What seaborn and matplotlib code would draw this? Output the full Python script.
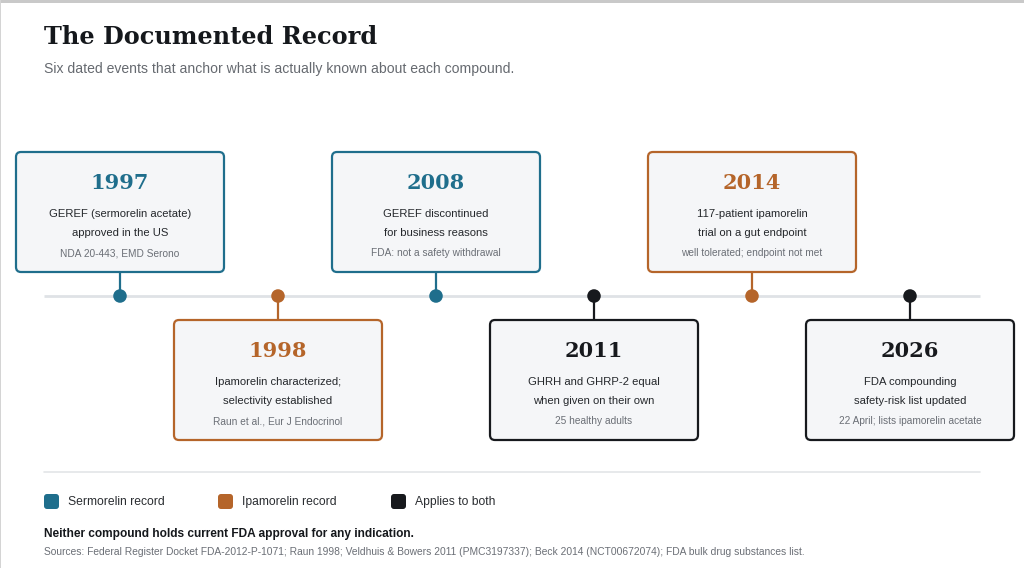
import matplotlib.pyplot as plt
import seaborn as sns
import pandas as pd
from matplotlib.patches import FancyBboxPatch, Rectangle

# Timeline data
years = ['1997', '1998', '2008', '2011', '2014', '2026']
compound = ['Sermorelin', 'Ipamorelin', 'Sermorelin', 'Both', 'Ipamorelin', 'Both']
headlines = [
    'GEREF (sermorelin acetate)\napproved in the US',
    'Ipamorelin characterized;\nselectivity established',
    'GEREF discontinued\nfor business reasons',
    'GHRH and GHRP-2 equal\nwhen given on their own',
    '117-patient ipamorelin\ntrial on a gut endpoint',
    'FDA compounding\nsafety-risk list updated',
]
notes = [
    'NDA 20-443, EMD Serono',
    'Raun et al., Eur J Endocrinol',
    'FDA: not a safety withdrawal',
    '25 healthy adults',
    'well tolerated; endpoint not met',
    '22 April; lists ipamorelin acetate',
]
legend_keys = ['Sermorelin', 'Ipamorelin', 'Both']
legend_labels = ['Sermorelin record', 'Ipamorelin record', 'Applies to both']

palette = {'Sermorelin': '#1f6e8c', 'Ipamorelin': '#b5652a', 'Both': '#17191d'}

# layout (pixels)
X0, STEP = 120, 158
LINE_Y = 296
BOX_W, BOX_H = 208, 120
TOP_BOX, BOT_BOX = 152, 320

df = pd.DataFrame({'year': years, 'compound': compound,
                   'headline': headlines, 'note': notes})
df['x'] = X0 + STEP * df.index
df['y'] = LINE_Y

sns.set_theme(style='white')
plt.rcParams['font.family'] = ['Liberation Sans', 'DejaVu Sans']
SERIF = ['DejaVu Serif']

fig = plt.figure(figsize=(10.24, 5.68), dpi=100)
fig.patch.set_facecolor('white')
ax = fig.add_axes([0, 0, 1, 1])

# frame edges
ax.add_patch(Rectangle((0, 0), 1024, 2.5, color='#c9c9c9', lw=0, zorder=0))
ax.add_patch(Rectangle((0, 0), 1.2, 568, color='#d4d4d4', lw=0, zorder=0))

# title
ax.text(44, 37, 'The Documented Record', family=SERIF, fontsize=17.3,
        fontweight='bold', color='#15181c', va='center', ha='left')
ax.text(44, 69, 'Six dated events that anchor what is actually known about each compound.',
        fontsize=10.1, color='#666a70', va='center', ha='left')

# timeline axis
ax.plot([44, 980], [LINE_Y, LINE_Y], color='#dfe2e6', lw=2, zorder=1,
        solid_capstyle='butt')

for i, row in df.iterrows():
    col = palette[row['compound']]
    top = TOP_BOX if i % 2 == 0 else BOT_BOX
    if i % 2 == 0:
        ax.plot([row['x'], row['x']], [top + BOX_H, LINE_Y], color=col, lw=1.6, zorder=2)
    else:
        ax.plot([row['x'], row['x']], [LINE_Y, top], color=col, lw=1.6, zorder=2)
    box = FancyBboxPatch((row['x'] - BOX_W / 2, top), BOX_W, BOX_H,
                         boxstyle='round,pad=0,rounding_size=5',
                         facecolor='#f5f6f8', edgecolor=col, lw=1.6, zorder=3)
    ax.add_patch(box)
    ax.text(row['x'], top + 31, row['year'], family=SERIF, fontsize=15,
            fontweight='bold', color=col, ha='center', va='center', zorder=4)
    l1, l2 = row['headline'].split('\n')
    ax.text(row['x'], top + 62, l1, fontsize=8.1, color='#25282c',
            ha='center', va='center', zorder=4)
    ax.text(row['x'], top + 81, l2, fontsize=8.1, color='#25282c',
            ha='center', va='center', zorder=4)
    ax.text(row['x'], top + 101, row['note'], fontsize=7.3, color='#6b6f76',
            ha='center', va='center', zorder=4)

sns.scatterplot(data=df, x='x', y='y', hue='compound', palette=palette,
                s=95, linewidth=0, legend=False, ax=ax, zorder=5)
ax.set_xlim(0, 1024)
ax.set_ylim(568, 0)
ax.axis('off')

# separator
ax.plot([44, 980], [472, 472], color='#e3e5e8', lw=1.2, zorder=1)

# legend
leg_x = [44, 218, 391]
for lx, key, lab in zip(leg_x, legend_keys, legend_labels):
    ax.add_patch(FancyBboxPatch((lx, 494), 15, 15,
                                boxstyle='round,pad=0,rounding_size=3',
                                facecolor=palette[key], edgecolor='none', zorder=3))
    ax.text(lx + 24, 502, lab, fontsize=8.7, color='#2a2d31',
            ha='left', va='center')

ax.text(44, 534, 'Neither compound holds current FDA approval for any indication.',
        fontsize=8.6, fontweight='bold', color='#15181c', ha='left', va='center')
ax.text(44, 552, 'Sources: Federal Register Docket FDA-2012-P-1071; Raun 1998; '
        'Veldhuis & Bowers 2011 (PMC3197337); Beck 2014 (NCT00672074); '
        'FDA bulk drug substances list.',
        fontsize=7.4, color='#6b6f76', ha='left', va='center')

fig.savefig('out.png', dpi=100)
